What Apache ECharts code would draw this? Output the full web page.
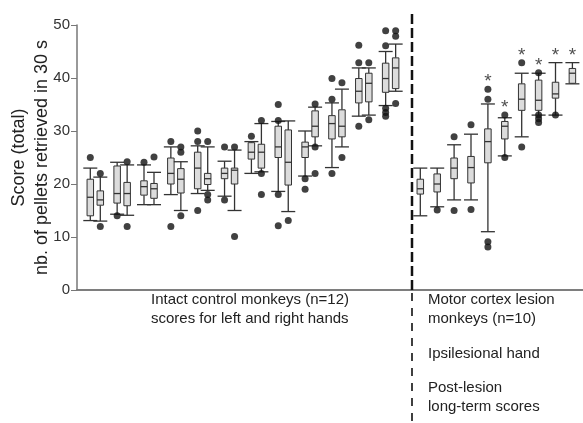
<!DOCTYPE html>
<html>
<head>
<meta charset="utf-8">
<script src="https://cdn.jsdelivr.net/npm/echarts@6/dist/echarts.min.js"></script>
<style>
  html, body { margin: 0; padding: 0; background: #fff; }
  #main { width: 583px; height: 423px; }
</style>
</head>
<body>
<div id="main"></div>
<script>
// box values: [lower whisker, q1, median, q3, upper whisker]
const intactBoxes = [
  [13.1, 14.0, 17.5, 20.9, 23.0], [13.0, 16.0, 17.0, 18.7, 21.3],
  [14.3, 16.4, 18.2, 23.4, 24.1], [14.1, 15.9, 18.2, 20.3, 23.6],
  [16.1, 17.9, 19.5, 20.6, 23.6], [16.1, 17.3, 19.1, 20.1, 22.2],
  [18.0, 20.0, 22.0, 24.9, 27.0], [15.0, 18.3, 20.9, 22.9, 24.2],
  [18.2, 19.1, 23.0, 26.0, 27.2], [18.8, 19.9, 21.0, 22.0, 27.0],
  [17.7, 21.0, 22.0, 23.0, 24.3], [15.0, 20.0, 22.6, 23.0, 26.4],
  [22.0, 24.7, 26.0, 27.8, 28.0], [22.3, 23.0, 26.0, 27.5, 31.4],
  [18.6, 25.0, 27.0, 30.9, 31.8], [14.8, 19.8, 24.1, 30.2, 31.9],
  [21.5, 25.0, 27.0, 27.9, 30.0], [27.2, 28.9, 30.9, 33.8, 34.5],
  [23.1, 28.5, 31.4, 32.9, 35.3], [27.0, 28.9, 30.9, 34.0, 37.9],
  [32.8, 35.3, 37.5, 39.9, 41.9], [33.0, 35.5, 39.0, 40.9, 41.9],
  [34.8, 37.3, 39.9, 42.8, 45.0], [37.5, 38.0, 41.9, 43.8, 46.4]
];
const intactOutliers = [
  [25], [22, 12], [14], [24.2, 12], [24.1], [25.1],
  [28, 12], [27, 26, 14], [30, 28, 15], [28, 18, 17], [27, 17], [27, 10.1],
  [29], [32, 22, 18], [35, 32, 18, 12.1], [13.1], [21, 19], [35.1, 27, 22],
  [39.9, 36, 22], [39.1, 25], [46.2, 42.9, 30.9], [42.9, 32.1],
  [48.9, 46.1, 34.3, 33.5, 32.8], [48.9, 47.9, 35.2]
];
const lesionBoxes = [
  [14.0, 18.1, 19.1, 20.9, 23.0], [15.7, 18.5, 20.0, 21.9, 23.0],
  [17.0, 21.0, 23.0, 24.9, 27.4], [17.0, 20.2, 23.1, 25.2, 29.4],
  [11.0, 24.0, 28.0, 30.4, 35.1], [25.3, 28.5, 30.9, 31.8, 32.5],
  [28.9, 33.9, 36.0, 38.9, 40.9], [33.0, 33.9, 35.8, 39.6, 40.9],
  [33.0, 36.2, 37.0, 39.2, 42.9], [38.9, 39.0, 40.9, 41.8, 42.9]
];
const lesionOutliers = [
  [], [15.1], [28.9, 15.0], [31.2, 15.2], [37.9, 36.0, 9.1, 8.1],
  [33.0, 25.0], [42.9, 27.0], [41.0, 33.0, 32.3, 31.6], [33.0], []
];
const lesionSignificant = [false, false, false, false, true, true, true, true, true, true];
const yTicks = [0, 10, 20, 30, 40, 50];

// slot layout on a hidden value axis (1 unit = spacing inside a pair)
const pairStep = 2.685, firstIntact = 1.33, firstLesion = 34.33, lesionStep = 1.69, dividerX = 33.5;
const intactX = intactBoxes.map((b, i) => firstIntact + Math.floor(i / 2) * pairStep + (i % 2));
const lesionX = lesionBoxes.map((b, i) => firstLesion + i * lesionStep);

const boxData = intactBoxes.map((b, i) => [intactX[i]].concat(b))
  .concat(lesionBoxes.map((b, i) => [lesionX[i]].concat(b)));
const outlierData = [];
intactOutliers.forEach((arr, i) => arr.forEach(v => outlierData.push([intactX[i], v])));
lesionOutliers.forEach((arr, i) => arr.forEach(v => outlierData.push([lesionX[i], v])));
const starData = [];
lesionBoxes.forEach((b, i) => {
  if (lesionSignificant[i]) starData.push([lesionX[i], Math.max.apply(null, [b[4]].concat(lesionOutliers[i]))]);
});

const textColor = '#222';
const axisColor = '#777';

function renderBox(params, api) {
  const x = api.value(0);
  const pMin = api.coord([x, api.value(1)]);
  const pQ1 = api.coord([x, api.value(2)]);
  const pMed = api.coord([x, api.value(3)]);
  const pQ3 = api.coord([x, api.value(4)]);
  const pMax = api.coord([x, api.value(5)]);
  const cx = pMin[0], bw = 6.5, cw = 14;
  const ls = { stroke: '#333', lineWidth: 1.3 };
  return {
    type: 'group',
    children: [
      { type: 'line', shape: { x1: cx, y1: pMax[1], x2: cx, y2: pQ3[1] }, style: ls },
      { type: 'line', shape: { x1: cx, y1: pQ1[1], x2: cx, y2: pMin[1] }, style: ls },
      { type: 'line', shape: { x1: cx - cw / 2, y1: pMax[1], x2: cx + cw / 2, y2: pMax[1] }, style: ls },
      { type: 'line', shape: { x1: cx - cw / 2, y1: pMin[1], x2: cx + cw / 2, y2: pMin[1] }, style: ls },
      { type: 'rect', shape: { x: cx - bw / 2, y: pQ3[1], width: bw, height: pQ1[1] - pQ3[1] },
        style: { fill: '#dcdcdc', stroke: '#333', lineWidth: 1 } },
      { type: 'line', shape: { x1: cx - bw / 2, y1: pMed[1], x2: cx + bw / 2, y2: pMed[1] }, style: ls }
    ]
  };
}

const chart = echarts.init(document.getElementById('main'));
const option = {
  animation: false,
  textStyle: { fontFamily: 'Liberation Sans, Arial, sans-serif' },
  grid: { left: 77, right: 0, top: 25, bottom: 133, outerBoundsMode: 'none', containLabel: false },
  xAxis: [
    { type: 'value', min: 0, max: 50.6, axisLine: { show: true, onZero: false, lineStyle: { color: axisColor, width: 1.5 } },
      axisTick: { show: false }, axisLabel: { show: false }, splitLine: { show: false } },
    { type: 'value', position: 'top', min: 0, max: 50.6, axisLine: { show: true, lineStyle: { color: axisColor, width: 1.5 } },
      axisTick: { show: false }, axisLabel: { show: false }, splitLine: { show: false } }
  ],
  yAxis: {
    type: 'value', min: yTicks[0], max: yTicks[yTicks.length - 1], interval: 10,
    name: 'Score (total)\nnb. of pellets retrieved in 30 s',
    nameLocation: 'middle', nameGap: 23, nameRotate: 90, nameMoveOverlap: false,
    nameTextStyle: { fontSize: 18, color: textColor, lineHeight: 23 },
    axisLine: { show: true, lineStyle: { color: axisColor, width: 1.5 } },
    axisTick: { show: true, length: 6, lineStyle: { color: axisColor } },
    axisLabel: { fontSize: 15, color: '#333', margin: 7 },
    splitLine: { show: false }
  },
  series: [
    { type: 'custom', renderItem: renderBox, data: boxData, encode: { x: 0, y: [1, 2, 3, 4, 5] }, z: 2 },
    { type: 'scatter', data: outlierData, symbol: 'circle', symbolSize: 7,
      itemStyle: { color: '#111' }, z: 3 },
    { type: 'scatter', data: starData, symbolSize: 0, z: 4,
      label: { show: true, position: 'inside', offset: [0, -7], formatter: '*',
        fontSize: 19, color: '#222', fontFamily: 'Liberation Sans, Arial, sans-serif' } }
  ]
};
chart.setOption(option);

// dashed divider between groups and the group descriptions
const divX = chart.convertToPixel({ xAxisIndex: 0 }, dividerX);
const axisY = chart.convertToPixel({ yAxisIndex: 0 }, 0);
const font = '15px "Liberation Sans", Arial, sans-serif';
function label(text, x, y) {
  return { type: 'text', x: x, y: y, style: { text: text, font: font, fill: textColor, verticalAlign: 'middle' } };
}
chart.setOption({
  graphic: [
    { type: 'line', shape: { x1: divX, y1: 14, x2: divX, y2: axisY }, z: 10,
      style: { stroke: '#111', lineWidth: 2.5, lineDash: [10, 4] } },
    { type: 'line', shape: { x1: divX, y1: axisY + 3, x2: divX, y2: 421 }, z: 10,
      style: { stroke: '#111', lineWidth: 1.6, lineDash: [8, 7] } },
    label('Intact control monkeys (n=12)', 151, 300),
    label('scores for left and right hands', 151, 319),
    label('Motor cortex lesion', 428, 300),
    label('monkeys (n=10)', 428, 319),
    label('Ipsilesional hand', 428, 354),
    label('Post-lesion', 428, 388),
    label('long-term scores', 428, 407)
  ]
});
</script>
</body>
</html>
